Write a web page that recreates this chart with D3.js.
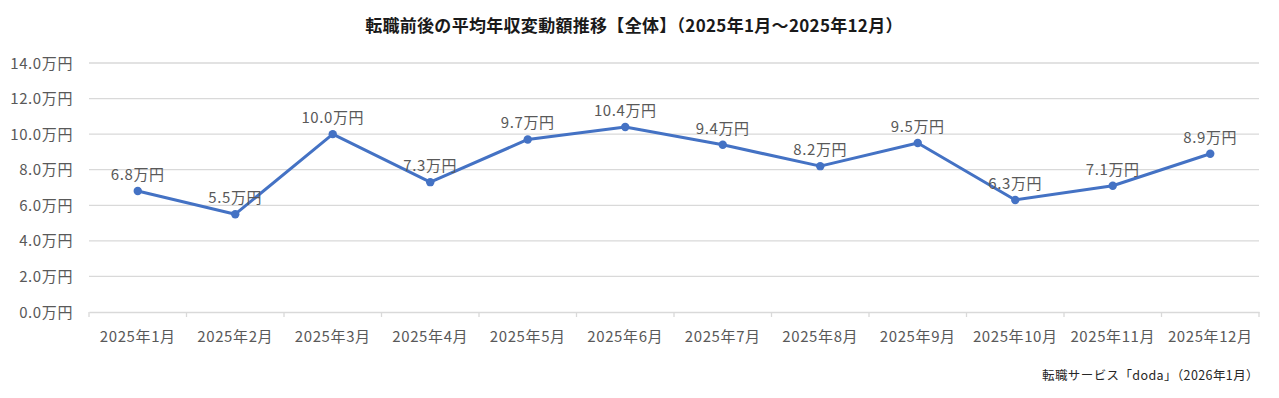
<!DOCTYPE html>
<html><head><meta charset="utf-8">
<script src="https://cdn.jsdelivr.net/npm/d3@7"></script>
<style>
body{margin:0;background:#fff;}
text{font-family:"Noto Sans CJK JP","Noto Sans",sans-serif;}
</style></head>
<body><svg id="c" width="1279" height="398"></svg>
<script>
const months = ["2025年1月","2025年2月","2025年3月","2025年4月","2025年5月","2025年6月","2025年7月","2025年8月","2025年9月","2025年10月","2025年11月","2025年12月"];
const values = [6.8,5.5,10.0,7.3,9.7,10.4,9.4,8.2,9.5,6.3,7.1,8.9];
const yTicks = [0,2,4,6,8,10,12,14];
const title = "転職前後の平均年収変動額推移【全体】（2025年1月～2025年12月）";
const source = "転職サービス「doda」（2026年1月）";

const svg = d3.select("#c");
const x = d3.scaleBand().domain(months).range([89,1259]);
const y = d3.scaleLinear().domain([0,14]).range([312,63]);
const fmt = v => v.toFixed(1) + "万円";
const LS = 0.6;

svg.append("text").attr("x",634).attr("y",32).attr("text-anchor","middle")
  .attr("font-size",17).attr("letter-spacing",0.3).attr("font-weight","bold").attr("fill","#1a1a1a").text(title);

svg.append("g").selectAll("line").data(yTicks.filter(d=>d>0)).join("line")
  .attr("x1",89).attr("x2",1259).attr("y1",d=>y(d)).attr("y2",d=>y(d))
  .attr("stroke","#d9d9d9").attr("stroke-width",1.3);

svg.append("g").selectAll("text").data(yTicks).join("text")
  .attr("x",73).attr("y",d=>y(d)+5.5).attr("text-anchor","end")
  .attr("font-size",15).attr("letter-spacing",LS).attr("fill","#595959").text(fmt);

const xa = svg.append("g").attr("transform","translate(0,312)")
  .call(d3.axisBottom(x).tickSize(0).tickFormat(d=>d));
xa.select(".domain").attr("stroke","#d9d9d9").attr("stroke-width",1.3);
xa.selectAll("text").attr("font-size",15).attr("letter-spacing",LS).attr("fill","#595959")
  .attr("y",29.5).attr("dy",0);
const bounds = months.map(m=>x(m)).concat([x.range()[1]]);
svg.append("g").selectAll("line").data(bounds).join("line")
  .attr("x1",d=>d).attr("x2",d=>d).attr("y1",312).attr("y2",317)
  .attr("stroke","#d9d9d9").attr("stroke-width",1.3);

const cx = (d,i)=>x(months[i])+x.bandwidth()/2;
const line = d3.line().x(cx).y(d=>y(d));
svg.append("path").datum(values).attr("d",line).attr("fill","none")
  .attr("stroke","#4472C4").attr("stroke-width",3).attr("stroke-linejoin","round");
svg.append("g").selectAll("circle").data(values).join("circle")
  .attr("cx",cx).attr("cy",d=>y(d)).attr("r",4.2).attr("fill","#4472C4");
svg.append("g").selectAll("text").data(values).join("text")
  .attr("x",cx).attr("y",d=>y(d)-11).attr("text-anchor","middle")
  .attr("font-size",15).attr("letter-spacing",LS).attr("fill","#595959").text(fmt);

svg.append("text").attr("x",1259).attr("y",380).attr("text-anchor","end")
  .attr("font-size",12.5).attr("letter-spacing",0.4).attr("fill","#262626").text(source);
</script></body></html>
